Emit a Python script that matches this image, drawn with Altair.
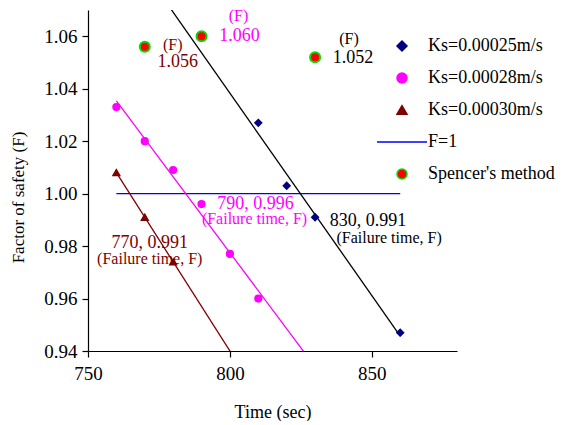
import altair as alt
import pandas as pd

# ---------------- data ----------------
S25 = "Ks=0.00025m/s"
S28 = "Ks=0.00028m/s"
S30 = "Ks=0.00030m/s"
SF1 = "F=1"
SSP = "Spencer's method"
series_order = [S25, S28, S30, SF1, SSP]

ks25_time = [810, 820, 830, 860]
ks25_f = [1.027, 1.003, 0.991, 0.947]

ks28_time = [760, 770, 780, 790, 800, 810]
ks28_f = [1.033, 1.020, 1.009, 0.996, 0.977, 0.960]

ks30_time = [760, 770, 780]
ks30_f = [1.008, 0.991, 0.974]

spencer_time = [770, 790, 830]
spencer_f = [1.056, 1.060, 1.052]

f1_time = [760, 860]
f1_f = [1.0, 1.0]

# failure points (time, F) per series
fail_25 = (830, 0.991)
fail_28 = (790, 0.996)
fail_30 = (770, 0.991)

x_ticks = [750, 800, 850]
y_ticks = [0.94, 0.96, 0.98, 1.00, 1.02, 1.04, 1.06]

# ---------------- styles ----------------
NAVY = "#000080"
MAGENTA = "#FF00FF"
BROWN = "#800000"
BLUE = "#0000FF"
RED = "#FF0000"
GREEN = "#00DD00"
FONT = "Liberation Serif"

rows = []
for name, xs, ys in [(S25, ks25_time, ks25_f), (S28, ks28_time, ks28_f),
                     (S30, ks30_time, ks30_f)]:
    for a, b in zip(xs, ys):
        rows.append({"series": name, "time": a, "F": b})
points = pd.DataFrame(rows)
spencer = pd.DataFrame({"series": SSP, "time": spencer_time, "F": spencer_f})
f1 = pd.DataFrame({"series": SF1, "time": f1_time, "F": f1_f})

axis_style = dict(
    grid=False, tickSize=6, labelFont=FONT, labelFontSize=19,
    labelColor="black", titleFont=FONT, titleFontWeight="normal",
    titleColor="black", domainColor="black", tickColor="black",
    domainWidth=1.2, tickWidth=1.2, labelFlush=False,
)

X = alt.X("time:Q",
          scale=alt.Scale(domain=[750, 880], nice=False, zero=False),
          axis=alt.Axis(values=x_ticks, format="d", title="Time (sec)",
                        labelPadding=7, titleFontSize=18,
                        titleY=61, titleBaseline="middle", **axis_style))
Y = alt.Y("F:Q",
          scale=alt.Scale(domain=[0.94, 1.07], nice=False, zero=False),
          axis=alt.Axis(values=y_ticks, format=".2f", title="Factor of safety (F)",
                        labelPadding=5,
                        titleX=-70, titleY=187, titleAngle=-90,
                        titleAlign="center", titleBaseline="middle",
                        titleFontSize=17, **axis_style))

legend = alt.Legend(title=None, orient="none", legendX=305, legendY=27,
                    labelFont=FONT, labelFontSize=18, labelColor="black",
                    labelOffset=17, rowPadding=14, symbolStrokeWidth=1.5,
                    padding=0)

pts = alt.Chart(points).mark_point(filled=True, opacity=1, size=45,
                                   strokeWidth=1.5).encode(
    x=X, y=Y,
    shape=alt.Shape("series:N", scale=alt.Scale(
        domain=series_order,
        range=["diamond", "circle", "triangle-up", "M-5,0H5", "circle"]),
        legend=legend),
    fill=alt.Fill("series:N", scale=alt.Scale(
        domain=series_order,
        range=[NAVY, MAGENTA, BROWN, "transparent", RED]), legend=legend),
    stroke=alt.Stroke("series:N", scale=alt.Scale(
        domain=series_order,
        range=[NAVY, MAGENTA, BROWN, BLUE, GREEN]), legend=legend),
)

sp = alt.Chart(spencer).mark_point(filled=True, opacity=1, size=100,
                                   fill=RED, stroke=GREEN,
                                   strokeWidth=2).encode(x=X, y=Y)

f1_line = alt.Chart(f1).mark_line(color=BLUE, strokeWidth=1.4).encode(x=X, y=Y)


def reg(name, color):
    return alt.Chart(points).transform_filter(
        alt.datum.series == name
    ).transform_regression("time", "F", extent=[760, 860]).mark_line(
        color=color, strokeWidth=1.3, clip=True).encode(x=X, y=Y)


def txt(df, text, dx, dy, color, size):
    return alt.Chart(df).mark_text(
        dx=dx, dy=dy, color=color, fontSize=size, font=FONT,
        align="center", baseline="middle").encode(x=X, y=Y, text=text)


def one(t, f):
    return pd.DataFrame({"time": [t], "F": [f]})


num = alt.Text("F:Q", format=".3f")
pair = alt.Text("lab:N")


def fail_txt(pt, dx, dy, color):
    return alt.Chart(one(*pt)).transform_calculate(
        lab="format(datum.time, 'd') + ', ' + format(datum.F, '.3f')"
    ).mark_text(dx=dx, dy=dy, color=color, fontSize=18, font=FONT,
                align="center", baseline="middle").encode(x=X, y=Y, text=pair)


labels = [
    # Spencer values
    txt(one(spencer_time[0], spencer_f[0]), alt.value("(F)"), 28, -2, BROWN, 16),
    txt(one(spencer_time[0], spencer_f[0]), num, 33, 15, BROWN, 18),
    txt(one(spencer_time[1], spencer_f[1]), alt.value("(F)"), 37, -20, MAGENTA, 16),
    txt(one(spencer_time[1], spencer_f[1]), num, 38, 0, MAGENTA, 18),
    txt(one(spencer_time[2], spencer_f[2]), alt.value("(F)"), 34, -18, "black", 16),
    txt(one(spencer_time[2], spencer_f[2]), num, 38, 1, "black", 18),
    # failure points
    fail_txt(fail_28, 54, 0, MAGENTA),
    txt(one(*fail_28), alt.value("(Failure time, F)"), 53, 15, MAGENTA, 16),
    fail_txt(fail_25, 53, 4, "black"),
    txt(one(*fail_25), alt.value("(Failure time, F)"), 74, 21, "black", 16),
    fail_txt(fail_30, 5, 26, BROWN),
    txt(one(*fail_30), alt.value("(Failure time, F)"), 5, 42, BROWN, 16),
]

chart = alt.layer(
    f1_line,
    reg(S25, "black"), reg(S28, MAGENTA), reg(S30, BROWN),
    pts, sp, *labels
).properties(
    width=369, height=341,
    padding={"left": 80, "top": 2, "right": 108, "bottom": 70},
    autosize=alt.AutoSizeParams(type="none"),
).configure_view(stroke=None)

chart.save("out.html", embed_options={"renderer": "svg", "actions": False})
